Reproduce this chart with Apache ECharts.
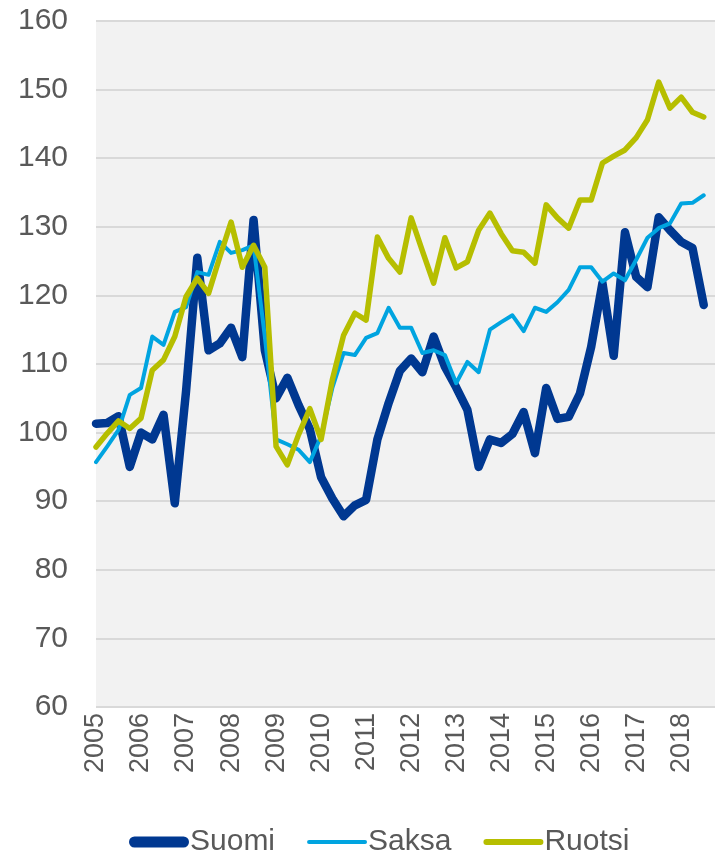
<!DOCTYPE html>
<html>
<head>
<meta charset="utf-8">
<script src="https://cdn.jsdelivr.net/npm/echarts@6/dist/echarts.min.js"></script>
<style>
html,body{margin:0;padding:0;background:#fff;}
#chart{width:715px;height:855px;}
</style>
</head>
<body>
<div id="chart"></div>
<script>
// Year tick labels (one label at each year's first quarter)
const years = [2005,2006,2007,2008,2009,2010,2011,2012,2013,2014,2015,2016,2017,2018];
const quarters = ['Q1','Q2','Q3','Q4'];
// Quarterly categories 2005Q1 .. 2018Q3, plus one empty slot so the plot reaches the right edge
const categories = [];
years.forEach(function(y){ quarters.forEach(function(q){ categories.push(y + ' ' + q); }); });
categories.splice(55);
categories.push('');

const seriesNames = ['Suomi','Saksa','Ruotsi'];

const suomi = [101.3,101.4,102.4,95,100,99,102.6,89.7,106,125.5,
  112,113,115.3,111,131,112,105,108,104,100.5,
  93.5,90.4,87.8,89.4,90.2,99,104.3,109,110.8,108.8,
  114,109.6,106.6,103.3,95,99,98.5,99.8,103,97,
  106.5,102,102.3,105.7,112.5,121.8,111.2,129.2,122.7,121.2,
  131.4,129.5,127.8,126.9,118.6];

const saksa = [95.7,98,100.4,105.5,106.5,114,112.8,117.6,118.3,123.4,
  123,127.8,126.2,126.6,127.3,114,99,98.3,97.5,95.7,
  99.5,106.5,111.6,111.3,113.8,114.5,118.2,115.3,115.3,111.6,
  112,111.3,107.2,110.3,108.8,115,116.1,117.1,114.8,118.2,
  117.6,119,120.8,124.1,124.1,122,123.2,122.2,125.2,128.4,
  129.8,130.5,133.4,133.5,134.6];

const ruotsi = [97.9,99.9,101.7,100.6,102.1,109.1,110.6,114,119.8,122.5,
  120.3,125.6,130.7,124.1,127.3,124.1,98,95.3,99.7,103.5,
  99,107.7,114.2,117.4,116.4,128.5,125.4,123.4,131.3,126.5,
  121.8,128.4,124,124.9,129.5,132,129,126.5,126.3,124.7,
  133.2,131.3,129.8,133.9,133.9,139.3,140.3,141.2,143,145.6,
  151.1,147.3,148.9,146.7,146];

const colors = ['#003891','#00A4E0','#B6BE00'];
const widths = [8.5, 4, 5.5];
const iconHeights = [11, 4, 6];

const font = 'Arial, "Liberation Sans", sans-serif';
const textColor = '#595959';

function legendIcon(h){
  const w = 60, r = h/2;
  return 'path://M' + r + ',0 L' + (w-r) + ',0 A' + r + ',' + r + ' 0 0 1 ' + (w-r) + ',' + h +
         ' L' + r + ',' + h + ' A' + r + ',' + r + ' 0 0 1 ' + r + ',0 Z';
}

const chart = echarts.init(document.getElementById('chart'), null, {renderer:'canvas'});
const datas = [suomi, saksa, ruotsi];

chart.setOption({
  animation: false,
  backgroundColor: '#ffffff',
  grid: {
    left: 96, right: 0, top: 21, bottom: 148,
    show: true, backgroundColor: '#f2f2f2', borderWidth: 0
  },
  legend: {
    top: 822,
    left: 124,
    itemWidth: 60,
    itemHeight: 11,
    itemGap: 32,
    textStyle: { fontFamily: font, fontSize: 30, color: textColor, padding: [0,0,0,-4] },
    data: seriesNames.map(function(n, i){
      return { name: n, icon: legendIcon(iconHeights[i]), itemStyle: { color: colors[i] } };
    })
  },
  xAxis: {
    type: 'category',
    data: categories,
    boundaryGap: false,
    axisLine: { show: false },
    axisTick: { show: false },
    splitLine: { show: false },
    axisLabel: {
      interval: function(idx){ return idx % 4 === 0 && idx < 55; },
      formatter: function(v){ return v.split(' ')[0]; },
      rotate: 90,
      margin: 6,
      fontFamily: font,
      fontSize: 27,
      color: textColor
    }
  },
  yAxis: {
    type: 'value',
    min: 60, max: 160, interval: 10,
    axisLine: { show: false },
    axisTick: { show: false },
    splitLine: { show: true, lineStyle: { color: '#d9d9d9', width: 2 } },
    axisLabel: { margin: 28, fontFamily: font, fontSize: 30, color: textColor }
  },
  series: seriesNames.map(function(n, i){
    return {
      name: n,
      type: 'line',
      data: datas[i],
      symbol: 'none',
      smooth: false,
      lineStyle: { color: colors[i], width: widths[i], cap: 'round', join: 'round' },
      itemStyle: { color: colors[i] },
      z: 2 + i
    };
  })
});
</script>
</body>
</html>
